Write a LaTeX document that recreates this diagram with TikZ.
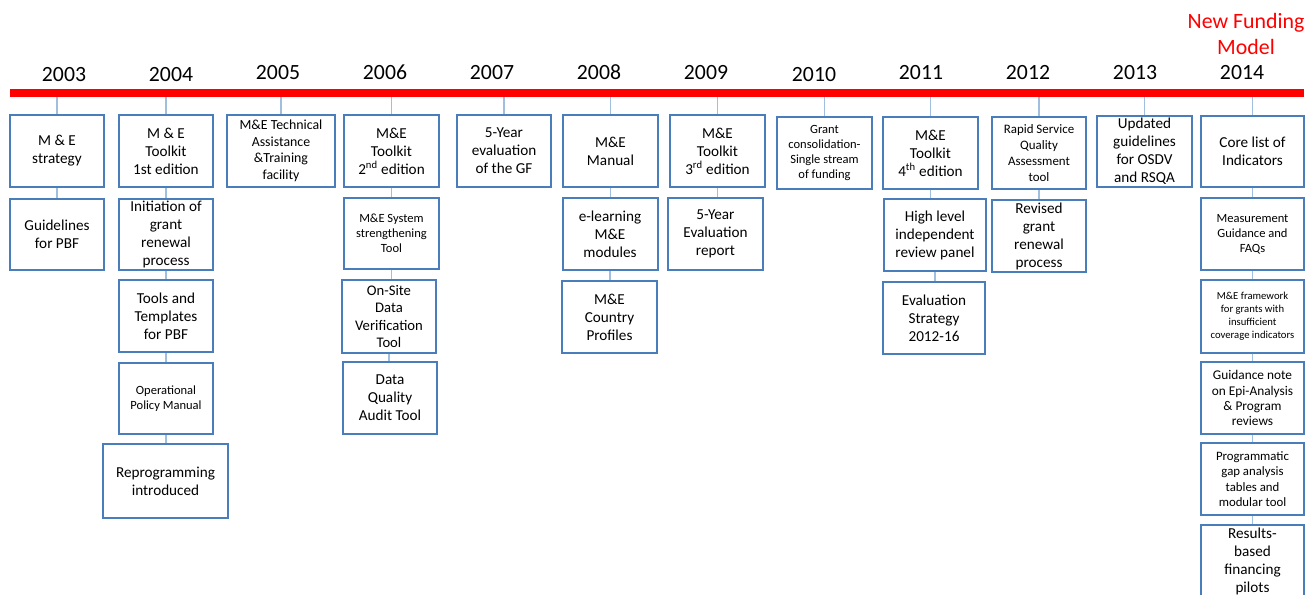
\documentclass[tikz,border=0pt]{standalone}
\usepackage{fontspec}
\setmainfont{Carlito}
\usepackage{tikz}

\definecolor{boxblue}{RGB}{74,126,187}
\definecolor{linkblue}{RGB}{160,190,222}
\definecolor{barred}{RGB}{255,0,0}

\tikzset{
  yearlbl/.style={anchor=base, inner sep=0pt, font=\fontsize{16.3}{19}\selectfont},
  mebox/.style={draw=boxblue, line width=1.5pt, align=center, inner sep=1pt,
    minimum width=70.5pt, minimum height=54pt, font=\fontsize{11.4}{13.5}\selectfont},
  smalltxt/.style={font=\fontsize{9.4}{11.3}\selectfont},
  tinytxt/.style={font=\fontsize{8}{9.8}\selectfont},
  link/.style={draw=linkblue, line width=1.1pt},
}

\begin{document}
\begin{tikzpicture}[x=0.75pt,y=0.75pt,yscale=-1,xscale=1]
\useasboundingbox (0,0) rectangle (1314,595);
\clip (0,0) rectangle (1314,595);

% time line
\node (bar) [fill=barred, inner sep=0pt, minimum width=970.5pt, minimum height=6pt] at (657,93) {};

% Text Node
\node [align=center, inner sep=0pt, text=barred, font=\fontsize{16.4}{20}\selectfont] (nfm) at (1246,34) {New Funding\\Model};

% years
\node [yearlbl] (y2003) at (64,82) {2003};
\node [yearlbl] (y2004) at (171,82) {2004};
\node [yearlbl] (y2005) at (278,80) {2005};
\node [yearlbl] (y2006) at (385,80) {2006};
\node [yearlbl] (y2007) at (492,80) {2007};
\node [yearlbl] (y2008) at (599,80) {2008};
\node [yearlbl] (y2009) at (706,80) {2009};
\node [yearlbl] (y2010) at (814,82) {2010};
\node [yearlbl] (y2011) at (921,80) {2011};
\node [yearlbl] (y2012) at (1028,80) {2012};
\node [yearlbl] (y2013) at (1135,80) {2013};
\node [yearlbl] (y2014) at (1242,80) {2014};

% 2003
\node [mebox] (m03a) at (57,151) {M \& E\\strategy};
\node [mebox, minimum height=53.25pt] (m03b) at (57,234.5) {Guidelines\\for PBF};
% 2004
\node [mebox] (m04a) at (166,151) {M \& E\\Toolkit\\1st edition};
\node [mebox, minimum height=53.25pt] (m04b) at (166,234.5) {Initiation of\\grant\\renewal\\process};
\node [mebox] (m04c) at (166,316) {Tools and\\Templates\\for PBF};
\node [mebox, smalltxt, minimum height=53.25pt] (m04d) at (166,398.5) {Operational\\Policy Manual};
\node [mebox, minimum width=93.75pt, minimum height=55.5pt] (m04e) at (165.5,481) {Reprogramming\\introduced};
% 2005
\node [mebox, minimum width=81pt, font=\fontsize{10.4}{12.4}\selectfont] (m05a) at (281,151) {M\&E Technical\\Assistance\\\&Training\\facility};
% 2006
\node [mebox, minimum width=71.25pt] (m06a) at (391.5,151) {M\&E\\Toolkit\\2\textsuperscript{nd} edition};
\node [mebox, smalltxt, minimum width=71.25pt, minimum height=53.25pt] (m06b) at (391.5,233.5) {M\&E System\\strengthening\\Tool};
\node [mebox, minimum height=54.75pt, font=\fontsize{11}{13.1}\selectfont] (m06c) at (389,316.5) {On-Site\\Data\\Verification\\Tool};
\node [mebox] (m06d) at (390,398) {Data\\Quality\\Audit Tool};
% 2007
\node [mebox] (m07a) at (504,151) {5-Year\\evaluation\\of the GF};
% 2008
\node [mebox, minimum width=71.25pt] (m08a) at (610.5,151) {M\&E\\Manual};
\node [mebox, minimum width=71.25pt] (m08b) at (610,234) {e-learning\\M\&E\\modules};
\node [mebox, minimum width=71.25pt] (m08c) at (609.5,317) {M\&E\\Country\\Profiles};
% 2009
\node [mebox, minimum width=71.25pt] (m09a) at (717.5,151) {M\&E\\Toolkit\\3\textsuperscript{rd} edition};
\node [mebox, minimum width=71.25pt] (m09b) at (715.5,234) {5-Year\\Evaluation\\report};
% 2010
\node [mebox, smalltxt, minimum width=71.25pt] (m10a) at (824.5,153) {Grant\\consolidation-\\Single stream\\of funding};
% 2011
\node [mebox, minimum width=71.25pt] (m11a) at (930.5,153) {M\&E\\Toolkit\\4\textsuperscript{th} edition};
\node [mebox, minimum width=76.5pt] (m11b) at (935,235) {High level\\independent\\review panel};
\node [mebox, minimum width=76.5pt] (m11c) at (934,318) {Evaluation\\Strategy\\2012-16};
% 2012
\node [mebox, font=\fontsize{9.7}{11.8}\selectfont] (m12a) at (1039,153) {Rapid Service\\Quality\\Assessment\\tool};
\node [mebox] (m12b) at (1039,236) {Revised\\grant\\renewal\\process};
% 2013
\node [mebox, minimum width=71.25pt, minimum height=53.25pt] (m13a) at (1144.5,151.5) {Updated\\guidelines\\for OSDV\\and RSQA};
% 2014
\node [mebox, minimum width=77.25pt, minimum height=53.25pt] (m14a) at (1252.5,151.5) {Core list of\\Indicators};
\node [mebox, smalltxt, minimum width=77.25pt] (m14b) at (1252.5,234) {Measurement\\Guidance and\\FAQs};
\node [mebox, tinytxt, minimum width=77.25pt, minimum height=54.75pt] (m14c) at (1252.5,316.5) {M\&E framework\\for grants with\\insufficient\\coverage indicators};
\node [mebox, minimum width=77.25pt, font=\fontsize{10}{11.3}\selectfont] (m14d) at (1252.5,398) {Guidance note\\on Epi-Analysis\\\& Program\\reviews};
\node [mebox, minimum width=77.25pt, font=\fontsize{9.6}{11.5}\selectfont] (m14e) at (1252.5,479) {Programmatic\\gap analysis\\tables and\\modular tool};
\node [mebox, minimum width=77.25pt, minimum height=54.75pt] (m14f) at (1252.5,561.5) {Results-\\based\\financing\\pilots};

% links from the time line
\draw [link] (bar.south -| m03a.north) -- (m03a.north);
\draw [link] (bar.south -| m04a.north) -- (m04a.north);
\draw [link] (bar.south -| m05a.north) -- (m05a.north);
\draw [link] (bar.south -| m06a.north) -- (m06a.north);
\draw [link] (bar.south -| m07a.north) -- (m07a.north);
\draw [link] (bar.south -| m08a.north) -- (m08a.north);
\draw [link] (bar.south -| m09a.north) -- (m09a.north);
\draw [link] (bar.south -| m10a.north) -- (m10a.north);
\draw [link] (bar.south -| m11a.north) -- (m11a.north);
\draw [link] (bar.south -| m12a.north) -- (m12a.north);
\draw [link] (bar.south -| m13a.north) -- (m13a.north);
\draw [link] (bar.south -| m14a.north) -- (m14a.north);

% links between boxes
\draw [link] (m03a.south) -- (m03a.south |- m03b.north);
\draw [link] (m04a.south) -- (m04a.south |- m04b.north);
\draw [link] (m04b.south) -- (m04b.south |- m04c.north);
\draw [link] (m04c.south) -- (m04c.south |- m04d.north);
\draw [link] (m04d.south) -- (m04d.south |- m04e.north);
\draw [link] (m06a.south) -- (m06a.south |- m06b.north);
\draw [link] (m06b.south) -- (m06b.south |- m06c.north);
\draw [link] (m06c.south) -- (m06c.south |- m06d.north);
\draw [link] (m08a.south) -- (m08a.south |- m08b.north);
\draw [link] (m08b.south) -- (m08b.south |- m08c.north);
\draw [link] (m09a.south) -- (m09a.south |- m09b.north);
\draw [link] (m11a.south) -- (m11a.south |- m11b.north);
\draw [link] (m11b.south) -- (m11b.south |- m11c.north);
\draw [link] (m12a.south) -- (m12a.south |- m12b.north);
\draw [link] (m14a.south) -- (m14a.south |- m14b.north);
\draw [link] (m14b.south) -- (m14b.south |- m14c.north);
\draw [link] (m14c.south) -- (m14c.south |- m14d.north);
\draw [link] (m14d.south) -- (m14d.south |- m14e.north);
\draw [link] (m14e.south) -- (m14e.south |- m14f.north);

\end{tikzpicture}
\end{document}
